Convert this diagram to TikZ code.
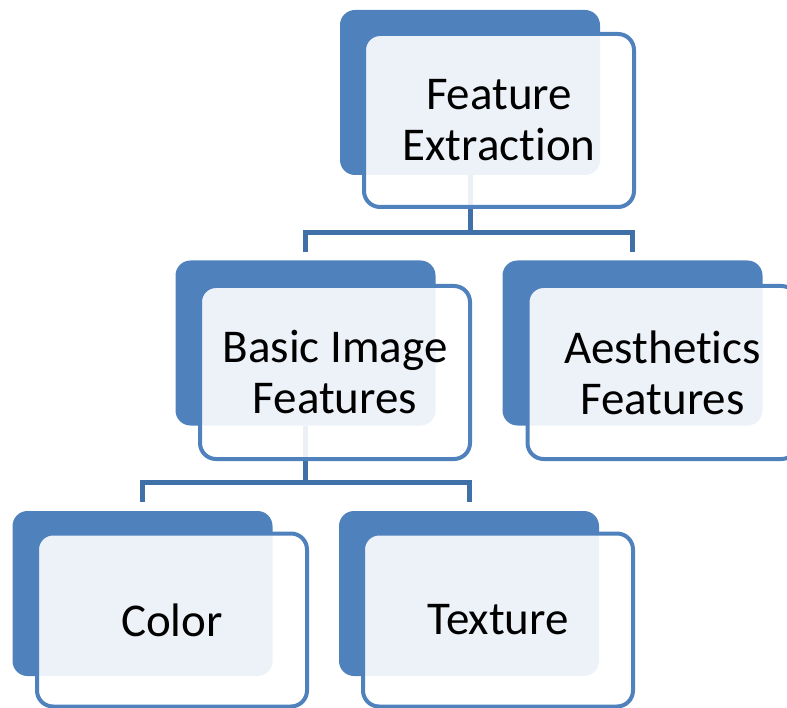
\documentclass[tikz,border=0pt]{standalone}
\usepackage{fontspec}
\setmainfont{Carlito}[Ligatures=NoCommon]
\usetikzlibrary{calc}
\pgfdeclarelayer{background}
\pgfsetlayers{background,main}
\definecolor{boxblue}{HTML}{4F81BD}
\definecolor{linkblue}{HTML}{4070A8}
\tikzset{
  backbox/.style={rectangle, rounded corners=15pt, fill=boxblue, draw=none,
    minimum width=260pt, minimum height=165pt, inner sep=0pt},
  frontbox/.style={rectangle, rounded corners=16pt, draw=boxblue, line width=4pt,
    fill=white, fill opacity=0.9, text opacity=1, text=black,
    minimum width=270pt, minimum height=173pt, inner sep=0pt, align=center,
    font=\fontsize{47}{51}\selectfont},
  link/.style={draw=linkblue, line width=5pt}
}
\begin{document}
\begin{tikzpicture}[x=1pt, y=-1pt]
  \useasboundingbox (0,0) rectangle (787,708);

  % root
  \node[backbox]  (fe-b)  at (470,92.5) {};
  \node[frontbox] (fe)    at (499,120.5) {Feature\\Extraction};

  % second level
  \node[backbox]  (bi-b)  at (305.5,343) {};
  \node[frontbox] (bi)    at (335,372.5) {Basic Image\\Features};
  \node[backbox]  (ae-b)  at (632.5,343) {};
  \node[frontbox] (ae)    at (662.5,372.5) {Aesthetics\\Features};

  % third level
  \node[backbox]  (co-b)  at (142.5,593.5) {};
  \node[frontbox] (co)    at (172,620) {Color};
  \node[backbox]  (tx-b)  at (469,593.5) {};
  \node[frontbox] (tx)    at (498,620) {Texture};

  % junction points of the elbow connectors
  \coordinate (j1) at (470,233);
  \coordinate (j2) at (305.5,482);

  \begin{pgfonlayer}{background}
    \draw[link] (fe-b.south) -- (j1);
    \draw[link] ([yshift=8pt]bi-b.north) |- (j1) -| ([yshift=8pt]ae-b.north);
    \draw[link] (bi-b.south) -- (j2);
    \draw[link] ([yshift=9pt]co-b.north) |- (j2) -| ([yshift=9pt]tx-b.north);
  \end{pgfonlayer}
\end{tikzpicture}
\end{document}
